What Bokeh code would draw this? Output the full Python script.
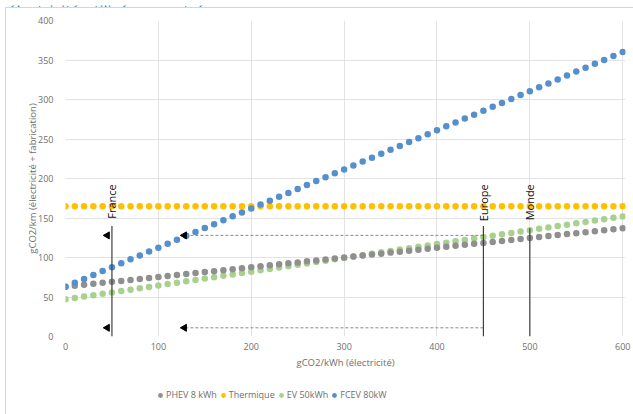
import math
from bokeh.plotting import figure
from bokeh.layouts import column
from bokeh.models import Range1d, Legend, LegendItem, FixedTicker
from bokeh.core.properties import value
from bokeh.embed import file_html
from bokeh.resources import INLINE

# ---- data ----
elec = list(range(0, 610, 10))  # gCO2/kWh (électricité)

phev = [63.0, 64.2, 65.5, 66.7, 67.9, 69.2, 70.4, 71.6, 72.9, 74.1, 75.3, 76.6, 77.8, 79.0, 80.3,
        81.5, 82.7, 84.0, 85.2, 86.4, 87.7, 88.9, 90.1, 91.4, 92.6, 93.8, 95.1, 96.3, 97.5, 98.8,
        100.0, 101.2, 102.5, 103.7, 104.9, 106.2, 107.4, 108.6, 109.9, 111.1, 112.3, 113.6, 114.8,
        116.0, 117.3, 118.5, 119.7, 121.0, 122.2, 123.4, 124.7, 125.9, 127.1, 128.4, 129.6, 130.8,
        132.1, 133.3, 134.5, 135.8, 137.0]
thermique = [165] * 61
ev = [47.0, 48.8, 50.5, 52.3, 54.0, 55.8, 57.5, 59.3, 61.0, 62.8, 64.5, 66.3, 68.0, 69.8, 71.5,
      73.3, 75.0, 76.8, 78.5, 80.3, 82.0, 83.8, 85.5, 87.3, 89.0, 90.8, 92.5, 94.3, 96.0, 97.8,
      99.5, 101.3, 103.0, 104.8, 106.5, 108.3, 110.0, 111.8, 113.5, 115.3, 117.0, 118.8, 120.5,
      122.3, 124.0, 125.8, 127.5, 129.3, 131.0, 132.8, 134.5, 136.3, 138.0, 139.8, 141.5, 143.3,
      145.0, 146.8, 148.5, 150.3, 152.0]
fcev = [63.0, 68.0, 72.9, 77.9, 82.8, 87.8, 92.7, 97.7, 102.6, 107.6, 112.5, 117.5, 122.4, 127.4,
        132.3, 137.3, 142.2, 147.2, 152.1, 157.1, 162.0, 167.0, 171.9, 176.9, 181.8, 186.8, 191.7,
        196.7, 201.6, 206.6, 211.5, 216.5, 221.4, 226.4, 231.3, 236.3, 241.2, 246.2, 251.1, 256.1,
        261.0, 266.0, 270.9, 275.9, 280.8, 285.8, 290.7, 295.7, 300.6, 305.6, 310.5, 315.5, 320.4,
        325.4, 330.3, 335.3, 340.2, 345.2, 350.1, 355.1, 360.0]

series_names = ["PHEV 8 kWh", "Thermique", "EV 50kWh", "FCEV 80kW"]
series_colors = ["#8F8F8F", "#FFC000", "#A9D18E", "#5590CC"]

region_names = ["France", "Europe", "Monde"]
region_x = [50, 450, 500]
region_line_top = [140, 140, 137]
region_label_y = [149, 146, 147]

arrow_levels = [128, 11]
arrow_from = 450
arrow_to = 128
arrow_france = 45

x_ticks = [0, 100, 200, 300, 400, 500, 600]
y_ticks = [0, 50, 100, 150, 200, 250, 300, 350, 400]

title_text = "électricité utilisée en entrée"
x_title = "gCO2/kWh (électricité)"
y_title = "gCO2/km (électricité + fabrication)"

FONT = "Open Sans"
GREY = "#6f6f6f"
BORDER = "#d6d6d6"
W = 633
H_TOP, H_MAIN, H_LEG = 7, 373, 34

data = [phev, thermique, ev, fcev]


def bare(height):
    f = figure(width=W, height=height, output_backend="svg", toolbar_location=None,
               x_axis_type=None, y_axis_type=None,
               x_range=Range1d(0, W), y_range=Range1d(0, height),
               min_border=0, min_border_left=0, min_border_right=0,
               min_border_top=0, min_border_bottom=0)
    f.outline_line_color = None
    f.background_fill_color = None
    f.border_fill_color = None
    aligned_off = True
    try:
        f.frame_align = False
    except Exception:
        aligned_off = False
    return f, aligned_off


# ---- strip with the (cropped) title ----
top, _ = bare(H_TOP)
top.text(x=[7], y=[2], text=[title_text], text_baseline="alphabetic", text_align="left",
         text_font=value(FONT), text_font_size="16px", text_color="#2E75B6")

# ---- main chart ----
p = figure(width=W, height=H_MAIN, output_backend="svg", toolbar_location=None,
           x_range=Range1d(0, 603), y_range=Range1d(0, 400),
           min_border_left=65, min_border_right=8, min_border_top=13, min_border_bottom=44)
p.outline_line_color = None
p.background_fill_color = "white"
p.border_fill_color = None

for ax in (p.xaxis[0], p.yaxis[0]):
    ax.axis_line_color = None
    ax.major_tick_line_color = None
    ax.minor_tick_line_color = None
    ax.major_tick_out = 0
    ax.major_tick_in = 0
    ax.minor_tick_out = 0
    ax.major_label_text_font = FONT
    ax.major_label_text_font_size = "9px"
    ax.major_label_text_color = GREY
    ax.axis_label_text_font = FONT
    ax.axis_label_text_font_size = "9.5px"
    ax.axis_label_text_font_style = "normal"
    ax.axis_label_text_color = GREY

p.xaxis.ticker = FixedTicker(ticks=x_ticks)
p.yaxis.ticker = FixedTicker(ticks=y_ticks)
p.xaxis.axis_label = x_title
p.yaxis.axis_label = y_title
p.xaxis.major_label_standoff = 6
p.xaxis.axis_label_standoff = 3
p.yaxis.major_label_standoff = 12
p.yaxis.axis_label_standoff = -4

p.xgrid.ticker = FixedTicker(ticks=x_ticks)
p.ygrid.ticker = FixedTicker(ticks=y_ticks)
p.grid.grid_line_color = "#e3e3e3"
p.grid.grid_line_width = 1

order = [1, 2, 0, 3]  # blue drawn last
for i in order:
    p.scatter(elec, data[i], size=6.5, color=series_colors[i], line_color=None)

p.segment(x0=[arrow_from] * len(arrow_levels), y0=arrow_levels,
          x1=[arrow_to] * len(arrow_levels), y1=arrow_levels,
          line_color="#8a8a8a", line_width=1, line_dash="3 2")

p.segment(x0=region_x, y0=[0] * len(region_x), x1=region_x, y1=region_line_top,
          line_color="#3f3f3f", line_width=1.2)

p.scatter(x=[arrow_to] * len(arrow_levels) + [arrow_france] * len(arrow_levels),
          y=arrow_levels + arrow_levels, marker="triangle", angle=math.pi / 2,
          size=7, color="black")

p.text(x=region_x, y=region_label_y, text=region_names, angle=math.pi / 2,
       text_align="left", text_baseline="middle", text_font=value(FONT),
       text_font_size="11px", text_color="#111111")

# ---- legend strip ----
leg, leg_unaligned = bare(H_LEG)
leg_renderers = []
for i in range(4):
    # same series, lying outside this strip's range: only the legend swatch shows
    leg_renderers.append(leg.scatter(elec, data[i], size=6.5, color=series_colors[i], line_color=None))

legend = Legend(items=[LegendItem(label=series_names[i], renderers=[leg_renderers[i]]) for i in range(4)],
                orientation="horizontal", location=(154 if leg_unaligned else 89, 13))
legend.label_text_font = FONT
legend.label_text_font_size = "9px"
legend.label_text_color = GREY
legend.glyph_width = 12
legend.glyph_height = 12
legend.label_height = 12
legend.label_standoff = 0
legend.spacing = 0
legend.padding = 0
legend.margin = 0
legend.border_line_color = None
legend.background_fill_alpha = 0
leg.add_layout(legend, "center")

bg = ("linear-gradient({c},{c}) 5px 7px / 1px 100% no-repeat, "
      "linear-gradient({c},{c}) 5px 7px / 100% 1px no-repeat").format(c=BORDER)
layout = column(top, p, leg, spacing=0, styles={"background": bg})

open("out.html", "w").write(file_html(layout, INLINE))
